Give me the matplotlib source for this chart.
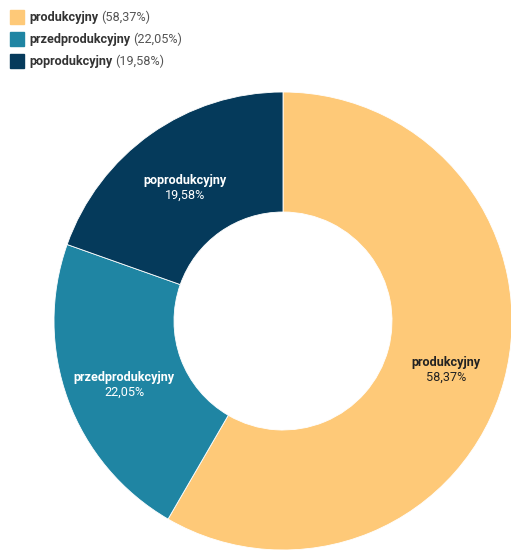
import matplotlib
matplotlib.use("Agg")
from matplotlib import pyplot as plt
from matplotlib.patches import Rectangle
import numpy as np

plt.rcParams['font.family'] = ['Roboto', 'DejaVu Sans']

labels = ['produkcyjny', 'przedprodukcyjny', 'poprodukcyjny']
shares = [58.37, 22.05, 19.58]
colors = ['#FEC978', '#1F85A3', '#053A5B']
label_colors = ['#222222', 'white', 'white']

W, H = 511, 554
fig = plt.figure(figsize=(W / 100, H / 100), dpi=100)

# donut: center (283, 321) px, radius 229 px
cx, cy, r = 283, 321, 229
ax = fig.add_axes([(cx - r) / W, (H - cy - r) / H, 2 * r / W, 2 * r / H])

wedges, _ = ax.pie(shares, colors=colors, startangle=90, counterclock=False,
                   radius=1, wedgeprops=dict(width=0.524, edgecolor='white', linewidth=0.6))
ax.set_xlim(-1, 1)
ax.set_ylim(-1, 1)
ax.axis('off')

def fmt(v):
    return f"{v:.2f}".replace('.', ',') + '%'

# labels inside the ring
total = sum(shares)
start = 0
for lab, v, tc in zip(labels, shares, label_colors):
    mid = (start + v / 2) / total * 2 * np.pi
    start += v
    x, y = 0.738 * np.sin(mid), 0.738 * np.cos(mid) - 0.02
    ax.text(x, y + 0.03, lab, ha='center', va='center', fontsize=9.1,
            fontweight='bold', color=tc)
    ax.text(x, y - 0.035, fmt(v), ha='center', va='center', fontsize=9.1, color=tc)

# legend at top-left
renderer = fig.canvas.get_renderer()
for i, (lab, v, c) in enumerate(zip(labels, shares, colors)):
    yc = 17 + i * 22
    fig.patches.append(Rectangle((10 / W, 1 - (yc + 7) / H), 14 / W, 14 / H,
                                 transform=fig.transFigure, color=c))
    t = fig.text(29 / W, 1 - yc / H, lab, ha='left', va='center', fontsize=9.1,
                 fontweight='bold', color='#333333')
    bb = t.get_window_extent(renderer)
    fig.text((bb.x1 + 3) / W, 1 - yc / H, f"({fmt(v)})", ha='left', va='center',
             fontsize=9.1, color='#555555')

fig.savefig('out.png', dpi=100)
